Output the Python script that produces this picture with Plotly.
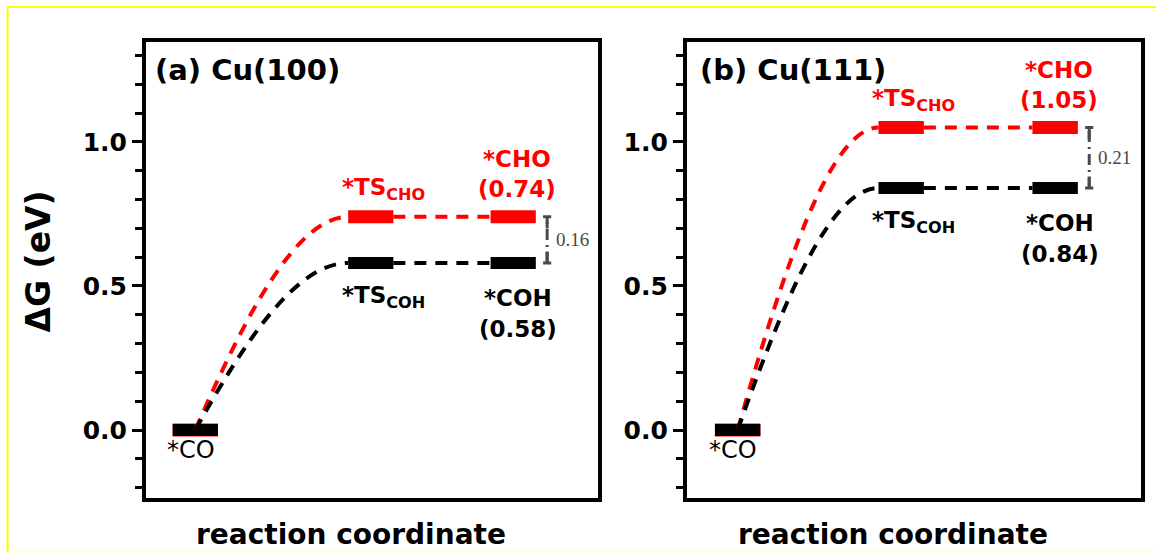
import plotly.graph_objects as go

# ---------------- data ----------------
panels = ["(a) Cu(100)", "(b) Cu(111)"]
states = ["*CO", "*TS", "*final"]
# energies (eV)
cho_path_a = [0.00, 0.74, 0.74]   # red  (*CO -> *TS_CHO -> *CHO)
coh_path_a = [0.00, 0.58, 0.58]   # black(*CO -> *TS_COH -> *COH)
cho_path_b = [0.00, 1.05, 1.05]
coh_path_b = [0.00, 0.84, 0.84]
diff_labels = ["0.16", "0.21"]
final_cho_labels = ["(0.74)", "(1.05)"]
final_coh_labels = ["(0.58)", "(0.84)"]
# reaction-coordinate positions of the states (arbitrary units, axis 0..10)
xpos_a = [1.09, 4.97, 8.12]
xpos_b = [1.12, 4.72, 8.11]
y_ticks = [0.0, 0.5, 1.0]

RED = "#ff0000"
BLACK = "#000000"
GRAY = "#4a4a4a"
FONT = "DejaVu Sans"
HALF = 0.5  # half width of a level bar (x units)

fig = go.Figure()
shapes = []
annotations = []

def add_panel(k, xs, red, black, diff_txt, cho_txt, coh_txt):
    xa = "x" if k == 0 else "x2"
    ya = "y" if k == 0 else "y2"
    # level bars
    for e, col, w in [(red, RED, 13), (black, BLACK, 12)]:
        for i, (x, v) in enumerate(zip(xs, e)):
            fig.add_trace(go.Scatter(x=[x - HALF, x + HALF], y=[v, v], mode="lines",
                                     line=dict(color=col, width=w), xaxis=xa, yaxis=ya,
                                     showlegend=False, hoverinfo="skip"))
    # connectors
    for e, col in [(red, RED), (black, BLACK)]:
        x0, y0 = xs[0], e[0]
        x1, y1 = xs[1] - HALF, e[1]
        dx, dy = x1 - x0, y1 - y0
        path = (f"M {x0},{y0} C {x0 + dx/3},{y0 + 0.55*dy} "
                f"{x0 + 2*dx/3},{y1} {x1},{y1}")
        shapes.append(dict(type="path", path=path, xref=xa, yref=ya,
                           line=dict(color=col, width=4, dash="12px,9px")))
        shapes.append(dict(type="line", x0=xs[1] + HALF, x1=xs[2] - HALF, y0=e[1], y1=e[2],
                           xref=xa, yref=ya,
                           line=dict(color=col, width=4, dash="12px,9px")))
    # difference bracket
    bx = xs[2] + 0.75
    top, bot = red[2], black[2]
    shapes.append(dict(type="line", x0=bx, x1=bx, y0=bot, y1=top, xref=xa, yref=ya,
                       line=dict(color=GRAY, width=3, dash="11px,5px,2px,5px")))
    for yy in (top, bot):
        shapes.append(dict(type="line", x0=bx - 0.09, x1=bx + 0.09, y0=yy, y1=yy,
                           xref=xa, yref=ya, line=dict(color=GRAY, width=3)))
    shapes.append(dict(type="line", x0=bx, x1=bx, y0=top, y1=top - 0.04, xref=xa, yref=ya,
                       line=dict(color=GRAY, width=3)))
    shapes.append(dict(type="line", x0=bx, x1=bx, y0=bot, y1=bot + 0.04, xref=xa, yref=ya,
                       line=dict(color=GRAY, width=3)))
    annotations.append(dict(x=bx + 0.16, y=(top + bot) / 2, xref=xa, yref=ya, text=diff_txt,
                            showarrow=False, xanchor="left", yanchor="middle",
                            font=dict(family="Liberation Serif", size=19, color=GRAY)))
    # labels
    def lab(x, y, t, col, size=23, bold=True, xanchor="center"):
        annotations.append(dict(x=x, y=y, xref=xa, yref=ya, text=t, showarrow=False,
                                xanchor=xanchor, yanchor="middle",
                                font=dict(family=FONT, size=size, color=col,
                                          weight="bold" if bold else "normal")))
    lab(xs[0] - 0.1, black[0] - 0.068, "*CO", BLACK, size=24, bold=False)
    lab(xs[1] + 0.28, red[1] + 0.095, "*TS<sub>CHO</sub>", RED)
    lab(xs[1] + 0.28, black[1] - 0.118, "*TS<sub>COH</sub>", BLACK)
    lab(xs[2] + 0.08, red[2] + 0.200, "*CHO", RED)
    lab(xs[2] + 0.08, red[2] + 0.096, cho_txt, RED)
    lab(xs[2] + 0.10, black[2] - 0.120, "*COH", BLACK)
    lab(xs[2] + 0.10, black[2] - 0.230, coh_txt, BLACK)
    lab(0.16 if k == 0 else 0.24, 1.25, panels[k], BLACK, size=29, xanchor="left")

add_panel(0, xpos_a, cho_path_a, coh_path_a, diff_labels[0], final_cho_labels[0], final_coh_labels[0])
add_panel(1, xpos_b, cho_path_b, coh_path_b, diff_labels[1], final_cho_labels[1], final_coh_labels[1])

# axis titles
for xc in (0.2062, 0.7508):
    annotations.append(dict(x=xc, y=-0.081, xref="paper", yref="paper",
                            text="reaction coordinate", showarrow=False,
                            xanchor="center", yanchor="middle",
                            font=dict(family=FONT, size=28, color=BLACK, weight="bold")))
annotations.append(dict(x=-0.109, y=0.5175, xref="paper", yref="paper", text="ΔG (eV)",
                        textangle=-90, showarrow=False, xanchor="center", yanchor="middle",
                        font=dict(family=FONT, size=33, color=BLACK, weight="bold")))

# yellow border of the image
shapes.append(dict(type="line", xref="paper", yref="paper", x0=-0.1391, x1=1.02,
                   y0=1.0768, y1=1.0768, line=dict(color="#ffff00", width=2)))
shapes.append(dict(type="line", xref="paper", yref="paper", x0=-0.1391, x1=-0.1391,
                   y0=-0.1184, y1=1.0768, line=dict(color="#ffff00", width=2)))
shapes.append(dict(type="line", xref="paper", yref="paper", x0=-0.1391, x1=1.02,
                   y0=-0.1184, y1=-0.1184, line=dict(color="#ffffa0", width=1)))

xcommon = dict(range=[0, 10], showticklabels=False, ticks="", showgrid=False, zeroline=False,
               showline=True, mirror=True, linewidth=4, linecolor=BLACK, fixedrange=True)
ycommon = dict(range=[-0.236, 1.347], tickvals=y_ticks, tickformat=".1f", ticks="outside",
               ticklen=10, tickwidth=3, tickcolor=BLACK, showgrid=False, zeroline=False,
               showline=True, mirror=True, linewidth=4, linecolor=BLACK,
               tickfont=dict(family=FONT, size=25, color=BLACK, weight="bold"),
               minor=dict(dtick=0.1, tick0=0, ticks="outside", ticklen=7, tickwidth=3,
                          tickcolor=BLACK, showgrid=False))

fig.update_layout(
    width=1156, height=554,
    margin=dict(l=146, r=11, t=42, b=56),
    paper_bgcolor="white", plot_bgcolor="white",
    xaxis=dict(domain=[0, 0.4545], **xcommon),
    xaxis2=dict(domain=[0.5435, 1], anchor="y2", **xcommon),
    yaxis=dict(anchor="x", **ycommon),
    yaxis2=dict(anchor="x2", **ycommon),
    shapes=shapes, annotations=annotations, showlegend=False,
)

fig.write_html("out.html", config={"displayModeBar": False},
               post_script="document.body.style.margin='0';"
                           "document.body.style.overflow='hidden';")
